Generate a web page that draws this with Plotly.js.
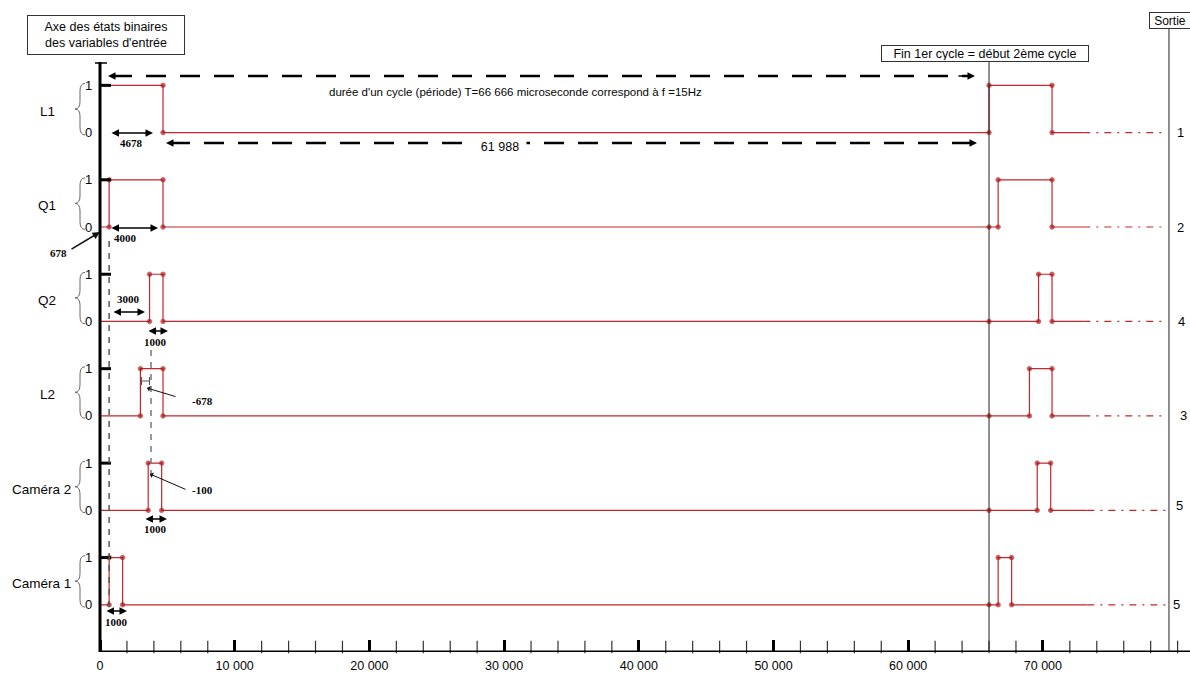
<!DOCTYPE html>
<html><head><meta charset="utf-8">
<script src="https://cdn.plot.ly/plotly-3.0.1.min.js"></script>
<style>html,body{margin:0;padding:0;background:#fff}#chart{width:1190px;height:696px}</style>
</head><body><div id="chart"></div>
<script>
// ---------------- data ----------------
const signalNames = ['L1', 'Q1', 'Q2', 'L2', 'Caméra 2', 'Caméra 1'];
const outputLabels = ['1', '2', '4', '3', '5', '5'];
const initialStates = [1, 0, 0, 0, 0, 0];
const edgesL1 = [4678, 66000, 70678];
const edgesQ1 = [678, 4678, 66678, 70678];
const edgesQ2 = [3678, 4678, 69678, 70678];
const edgesL2 = [3000, 4678, 69000, 70678];
const edgesCam2 = [3578, 4578, 69578, 70578];
const edgesCam1 = [678, 1678, 66678, 67678];
const solidEnd = [73000, 73000, 73000, 73000, 73300, 73300];
const dashEnd = [78900, 78900, 78900, 78900, 79200, 79300];
const cycleEnd = 66000;
const outputAxisX = 79360;
const xTickVals = [0, 10000, 20000, 30000, 40000, 50000, 60000, 70000];
const xTickText = ['0', '10 000', '20 000', '30 000', '40 000', '50 000', '60 000', '70 000'];
const durationLabels = ['4678', '4000', '3000', '1000', '1000', '1000'];
const offsetLabels = ['678', '-678', '-100'];
const periodText = "durée d'un cycle (période) T=66 666 microseconde correspond à f =15Hz";
const remainderText = '61 988';

// ---------------- geometry helpers ----------------
const W = 1190, H = 696, BOTTOM = 44;
const X0PX = 100, PX_PER_US = 0.01347, PX_PER_Y = 47.22;
const PLOT_H = H - BOTTOM;
const xmin = -X0PX / PX_PER_US, xmax = (W - X0PX) / PX_PER_US;
const ymax = PLOT_H / PX_PER_Y;
const px2x = p => (p - X0PX) / PX_PER_US;
const py2y = p => (PLOT_H - p) / PX_PER_Y;

const RED = '#c0282d', DOT = '#a81616';
const FONT = 'Liberation Sans, Arial, sans-serif';
const SERIF = 'Liberation Serif, Times New Roman, serif';
const TXT = '#050505';

const allEdges = [edgesL1, edgesQ1, edgesQ2, edgesL2, edgesCam2, edgesCam1];
const traces = [];
const shapes = [];
const annotations = [];

function buildSignal(init, edges, end, base) {
  const pts = Array.from(new Set([...edges, cycleEnd])).sort((a, b) => a - b);
  let s = init;
  const xs = [0], ys = [base + s], sz = [0];
  for (const t of pts) {
    if (edges.includes(t)) {
      xs.push(t, t); ys.push(base + s, base + 1 - s); sz.push(4.5, 4.5); s = 1 - s;
    } else {
      xs.push(t); ys.push(base + s); sz.push(4.5);
    }
  }
  xs.push(end); ys.push(base + s); sz.push(0);
  return {xs, ys, sz, last: s};
}

signalNames.forEach((name, i) => {
  const base = 11 - 2 * i;
  const sig = buildSignal(initialStates[i], allEdges[i], solidEnd[i], base);
  traces.push({
    type: 'scatter', mode: 'lines+markers', x: sig.xs, y: sig.ys,
    line: {color: RED, width: 1.2}, marker: {color: DOT, size: sig.sz}, hoverinfo: 'skip'
  });
  traces.push({
    type: 'scatter', mode: 'lines', x: [solidEnd[i], dashEnd[i]], y: [base + sig.last, base + sig.last],
    line: {color: RED, width: 1.2, dash: '7px,6px,2px,6px'}, hoverinfo: 'skip'
  });
  // black level-1 tick on the binary axis
  shapes.push({type: 'line', xref: 'x', yref: 'y', x0: 0, x1: px2x(111), y0: base + 1, y1: base + 1,
    line: {color: '#000', width: 3}});
  // brace
  const yT = base + 1.04, yB = base - 0.05, ym = base + 0.5, d = 0.16;
  const xr = px2x(85), xm = px2x(80), xt = px2x(75);
  shapes.push({type: 'path', xref: 'x', yref: 'y',
    path: `M ${xr} ${yT} Q ${xm} ${yT} ${xm} ${yT - d} L ${xm} ${ym + d} Q ${xm} ${ym} ${xt} ${ym} ` +
          `Q ${xm} ${ym} ${xm} ${ym - d} L ${xm} ${yB + d} Q ${xm} ${yB} ${xr} ${yB}`,
    line: {color: '#666', width: 1}});
  // level labels
  annotations.push({x: px2x(88), y: base + 1, text: '1', showarrow: false, font: {family: FONT, size: 13, color: TXT}});
  annotations.push({x: px2x(88), y: base, text: '0', showarrow: false, font: {family: FONT, size: 13, color: TXT}});
  // signal name
  annotations.push({x: px2x(i >= 4 ? 41 : 47), y: base + 0.45, text: name, showarrow: false,
    font: {family: FONT, size: 13.5, color: TXT}});
  // output number
  annotations.push({x: px2x([1180, 1180, 1181, 1183, 1179, 1176][i]), y: base + (i === 4 ? 0.1 : 0),
    text: outputLabels[i], showarrow: false, font: {family: FONT, size: 13, color: TXT}});
});

// axes drawn as shapes
shapes.push({type: 'line', xref: 'x', yref: 'y', x0: 0, x1: xmax, y0: 0, y1: 0, line: {color: '#000', width: 3}});
shapes.push({type: 'line', xref: 'x', yref: 'y', x0: 0, x1: 0, y0: 0, y1: py2y(62), line: {color: '#000', width: 3}});
shapes.push({type: 'line', xref: 'x', yref: 'y', x0: px2x(95), x1: px2x(107), y0: py2y(63), y1: py2y(63), line: {color: '#000', width: 1.5}});
// minor ticks every 2000 on the time axis (vertical-bar markers)
const minorVals = [];
for (let v = 2000; v <= 80000; v += 2000) if (v % 10000 !== 0 || v === 80000) minorVals.push(v);
traces.push({type: 'scatter', mode: 'markers', x: minorVals, y: minorVals.map(() => 5 / PX_PER_Y),
  marker: {symbol: 'line-ns-open', size: 9, color: '#333', line: {color: '#333', width: 1.2}},
  cliponaxis: false, hoverinfo: 'skip'});
// cycle boundary and output axis
shapes.push({type: 'line', xref: 'x', yref: 'y', x0: cycleEnd, x1: cycleEnd, y0: 0, y1: py2y(62), line: {color: '#222', width: 1}});
shapes.push({type: 'line', xref: 'x', yref: 'y', x0: outputAxisX, x1: outputAxisX, y0: 0, y1: py2y(28), line: {color: '#222', width: 1}});
// grey dashed guide lines
shapes.push({type: 'line', xref: 'x', yref: 'y', x0: 678, x1: 678, y0: py2y(607), y1: py2y(236), line: {color: '#555', width: 1.5, dash: '6px,6px'}});
shapes.push({type: 'line', xref: 'x', yref: 'y', x0: px2x(151), x1: px2x(151), y0: py2y(476), y1: py2y(345), line: {color: '#777', width: 1.5, dash: '6px,6px'}});
// big dashed arrows
function bigArrow(xl, xr, py) {
  shapes.push({type: 'line', xref: 'x', yref: 'y', x0: px2x(xl + 4), x1: px2x(xr - 4), y0: py2y(py), y1: py2y(py),
    line: {color: '#000', width: 2.5, dash: '20px,14px'}});
  [[xl, xl + 18], [xr, xr - 18]].forEach(([h, t]) => annotations.push({
    x: px2x(h), y: py2y(py), ax: px2x(t), ay: py2y(py), axref: 'x', ayref: 'y', text: '',
    showarrow: true, arrowhead: 2, arrowsize: 1, arrowwidth: 1.5, arrowcolor: '#000'}));
}
bigArrow(108, 975, 76);
bigArrow(166, 977, 143);
annotations.push({x: px2x(515), y: py2y(92), text: periodText, showarrow: false, font: {family: FONT, size: 11.5, color: TXT}});
annotations.push({x: px2x(500), y: py2y(146), text: remainderText, showarrow: false, bgcolor: '#fff',
  borderpad: 1, width: 50, height: 11, font: {family: FONT, size: 12.5, color: TXT}});

// small duration arrows [left px, right px, y px]
const durArrows = [[110, 153, 133], [110, 158, 228], [112, 145, 312], [147, 168, 331], [144, 167, 519], [105, 127, 611]];
const durLabelPos = [[131, 143], [125, 238], [128, 299], [155, 342], [155, 529], [116, 622]];
durArrows.forEach(([a, b, p], k) => {
  annotations.push({x: px2x(b), y: py2y(p), ax: px2x(a), ay: py2y(p), axref: 'x', ayref: 'y', text: '',
    showarrow: true, arrowhead: 2, startarrowhead: 2, arrowside: 'end+start', arrowsize: 1, startarrowsize: 1,
    arrowwidth: 1.5, arrowcolor: '#000'});
  annotations.push({x: px2x(durLabelPos[k][0]), y: py2y(durLabelPos[k][1]), text: '<b>' + durationLabels[k] + '</b>',
    showarrow: false, font: {family: SERIF, size: 11, color: TXT}});
});
// tiny -678 bracket |<->|
shapes.push({type: 'line', xref: 'x', yref: 'y', x0: px2x(141.5), x1: px2x(149.5), y0: py2y(381), y1: py2y(381), line: {color: '#555', width: 1}});
shapes.push({type: 'line', xref: 'x', yref: 'y', x0: px2x(141.5), x1: px2x(141.5), y0: py2y(377), y1: py2y(385), line: {color: '#555', width: 1}});
shapes.push({type: 'line', xref: 'x', yref: 'y', x0: px2x(149.5), x1: px2x(149.5), y0: py2y(377), y1: py2y(385), line: {color: '#555', width: 1}});
// offset labels with pointers
const offTail = [[70, 250], [177, 397], [187, 490]];
const offHead = [[100, 232], [147, 388], [150, 474]];
const offLabelPos = [[58, 253], [202, 401], [202, 490]];
offsetLabels.forEach((t, k) => {
  annotations.push({x: px2x(offHead[k][0]), y: py2y(offHead[k][1]), ax: px2x(offTail[k][0]), ay: py2y(offTail[k][1]),
    axref: 'x', ayref: 'y', text: '', showarrow: true, arrowhead: k === 0 ? 2 : 1, arrowsize: 1,
    arrowwidth: k === 0 ? 1.5 : 1, arrowcolor: '#111'});
  annotations.push({x: px2x(offLabelPos[k][0]), y: py2y(offLabelPos[k][1]), text: '<b>' + t + '</b>', showarrow: false,
    font: {family: SERIF, size: 11, color: TXT}});
});

// boxes
annotations.push({x: px2x(106), y: py2y(35), text: "Axe des états binaires<br>des variables d'entrée", showarrow: false,
  width: 152, height: 34, borderpad: 2, bordercolor: '#333', borderwidth: 1, bgcolor: '#fff',
  font: {family: FONT, size: 12.5, color: TXT}});
annotations.push({x: px2x(985), y: py2y(53.5), text: 'Fin 1er cycle = début 2ème cycle', showarrow: false,
  width: 204, height: 13, borderpad: 1, bordercolor: '#333', borderwidth: 1, bgcolor: '#fff',
  font: {family: FONT, size: 12.5, color: TXT}});
annotations.push({x: px2x(1170), y: py2y(20), text: 'Sortie', showarrow: false,
  width: 38, height: 13, borderpad: 1, bordercolor: '#333', borderwidth: 1, bgcolor: '#fff',
  font: {family: FONT, size: 12, color: TXT}});
annotations.push({x: px2x(1010), y: py2y(686), text: 'temps (microseconde)', showarrow: false,
  font: {family: FONT, size: 12.5, color: TXT}});

const layout = {
  width: W, height: H, margin: {l: 0, r: 0, t: 0, b: BOTTOM},
  paper_bgcolor: '#fff', plot_bgcolor: '#fff', showlegend: false,
  xaxis: {range: [xmin, xmax], showgrid: false, zeroline: false, showline: false,
    tickmode: 'array', tickvals: xTickVals, ticktext: xTickText,
    ticks: 'inside', ticklen: 12, tickwidth: 3, tickcolor: '#000', ticklabelstandoff: 4,
    tickfont: {family: FONT, size: 12.5, color: TXT}, fixedrange: true},
  yaxis: {range: [0, ymax], visible: false, fixedrange: true},
  shapes, annotations
};
Plotly.newPlot('chart', traces, layout, {displayModeBar: false, staticPlot: true});
</script></body></html>
